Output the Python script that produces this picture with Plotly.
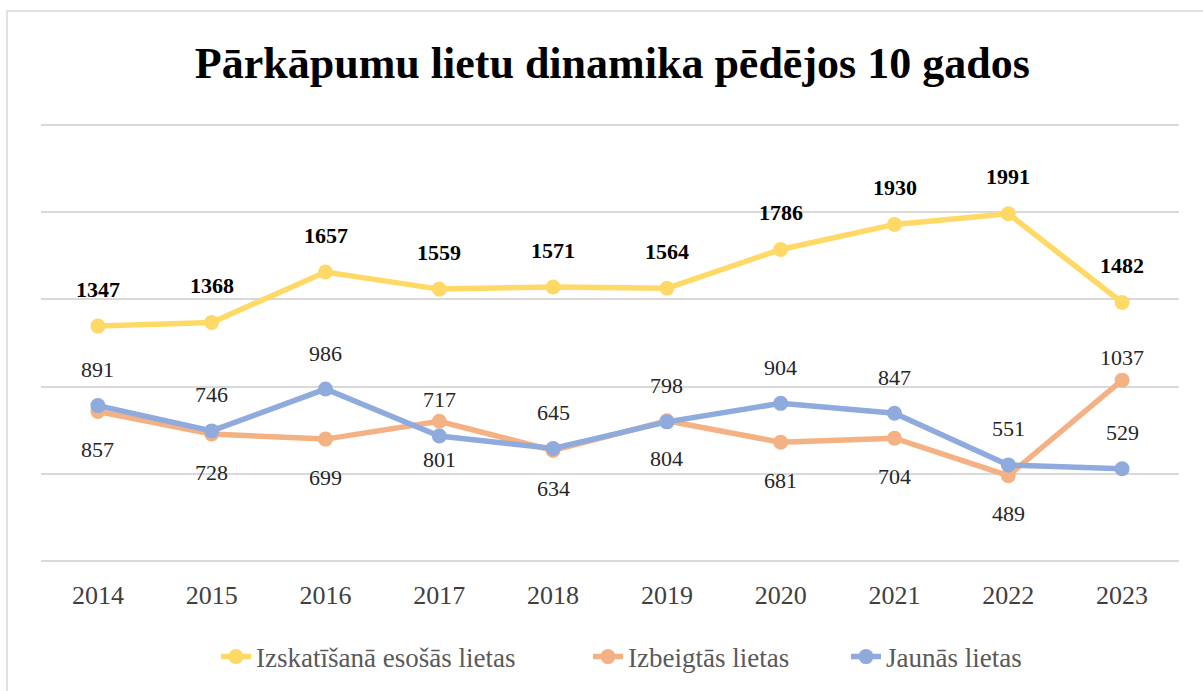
import plotly.graph_objects as go

years = ["2014", "2015", "2016", "2017", "2018", "2019", "2020", "2021", "2022", "2023"]
izskatisana = [1347, 1368, 1657, 1559, 1571, 1564, 1786, 1930, 1991, 1482]
izbeigtas = [857, 728, 699, 801, 634, 804, 681, 704, 489, 1037]
jaunas = [891, 746, 986, 717, 645, 798, 904, 847, 551, 529]
izbeigtas_label_above = [False, False, False, False, False, False, False, False, False, True]
grid_vals = [0, 500, 1000, 1500, 2000, 2500]

names = ["Izskatīšanā esošās lietas", "Izbeigtās lietas", "Jaunās lietas"]
colors = ["#FFD966", "#F4B183", "#8FAADC"]
FONT = "Liberation Serif"

# value 0 at y=561 px, value 2500 at y=125 px; small padding so edge gridlines render
Y_LO, Y_HI = -40, 2540
scale = (561 - 125) / 2500.0
PL, PR = 41, 1179
PB = 561 + (0 - Y_LO) * scale
PT = 125 - (Y_HI - 2500) * scale

def px_x(p):
    return (p - PL) / (PR - PL)
def px_y(p):
    return (PB - p) / (PB - PT)

fig = go.Figure()
legend_ids = ["legend", "legend2", "legend3"]
for name, vals, col, lg in zip(names, [izskatisana, izbeigtas, jaunas], colors, legend_ids):
    fig.add_trace(go.Scatter(
        x=years, y=vals, name=name, mode="lines+markers",
        line=dict(color=col, width=5.5),
        marker=dict(color=col, size=15),
        legend=lg,
    ))

annotations = []
for i, v in enumerate(izskatisana):
    annotations.append(dict(x=i, y=v, text=f"<b>{v}</b>", showarrow=False, yshift=37,
                            font=dict(family=FONT, size=22, color="#000000")))
for i, (v, above) in enumerate(zip(izbeigtas, izbeigtas_label_above)):
    annotations.append(dict(x=i, y=v, text=str(v), showarrow=False, yshift=23 if above else -38,
                            font=dict(family=FONT, size=22, color="#262626")))
for i, v in enumerate(jaunas):
    annotations.append(dict(x=i, y=v, text=str(v), showarrow=False, yshift=36,
                            font=dict(family=FONT, size=22, color="#262626")))

leg_common = dict(orientation="h", yanchor="middle", xanchor="left",
                  font=dict(family=FONT, size=27, color="#595959"),
                  bgcolor="rgba(0,0,0,0)")
text_starts = [258, 630, 888]
legs = {}
for lg, ts in zip(legend_ids, text_starts):
    legs[lg] = dict(leg_common, x=px_x(ts - 42), y=px_y(657))

fig.update_layout(
    width=1203, height=691,
    margin=dict(l=PL, r=1203 - PR, t=PT, b=691 - PB, autoexpand=False),
    paper_bgcolor="white", plot_bgcolor="white",
    title=dict(text="<b>Pārkāpumu lietu dinamika pēdējos 10 gados</b>",
               x=0.509, xanchor="center", y=0.91, yanchor="middle",
               font=dict(family=FONT, size=44, color="#000000")),
    showlegend=True,
    annotations=annotations,
    shapes=[dict(type="rect", xref="paper", yref="paper",
                 x0=px_x(7), x1=px_x(1260), y0=px_y(760), y1=px_y(11),
                 line=dict(color="#d9d9d9", width=1.5), layer="below")],
    **legs,
)
fig.update_xaxes(type="category", range=[-0.5, 9.5], showgrid=False, showline=False,
                 zeroline=False, ticks="",
                 tickfont=dict(family=FONT, size=26, color="#404040"),
                 ticklabelstandoff=int(round(16 - (PB - 561))))
fig.update_yaxes(range=[Y_LO, Y_HI], tickvals=grid_vals,
                 showgrid=True, gridcolor="#d9d9d9", gridwidth=2,
                 zeroline=False, showticklabels=False, showline=False)

fig.write_html("out.html", config={"displayModeBar": False},
               post_script="document.body.style.margin='0';")
